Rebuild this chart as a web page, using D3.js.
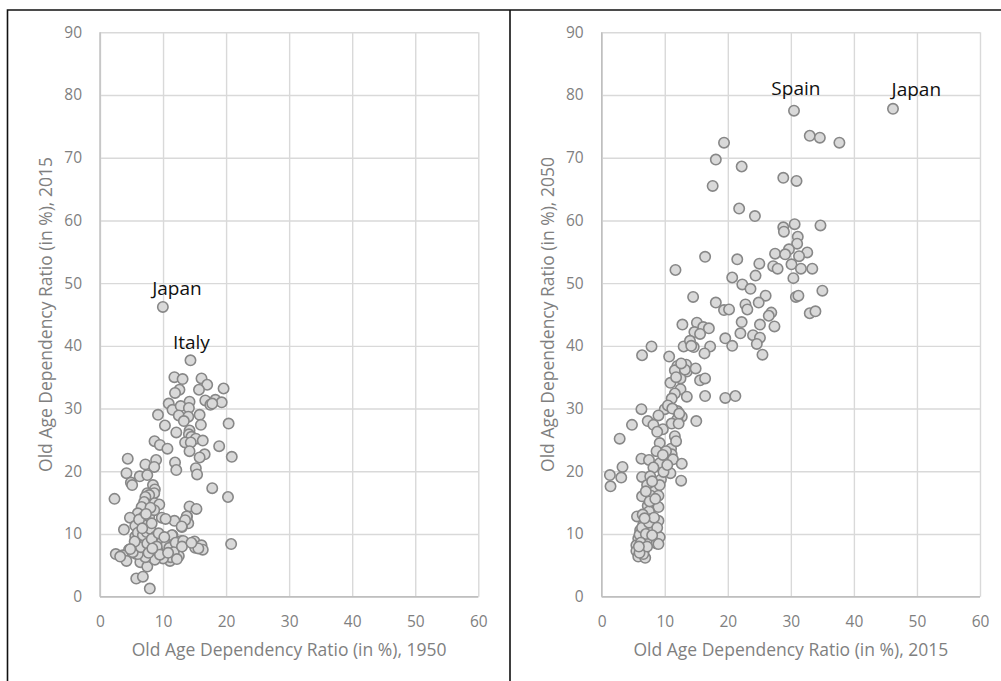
<!DOCTYPE html>
<html>
<head>
<meta charset="utf-8">
<script src="https://cdn.jsdelivr.net/npm/d3@7"></script>
<style>
  body { margin: 0; background: #fff; }
  svg { display: block; }
  .tick text { fill: #7f7f7f; font-family: "Open Sans", sans-serif; font-size: 15.5px; }
  .title { fill: #7f7f7f; font-family: "Open Sans", sans-serif; font-size: 17.5px; }
  .country { fill: #111; font-family: "Open Sans", sans-serif; font-size: 19px; }
</style>
</head>
<body>
<svg width="1001" height="681"></svg>
<script>
// ticks
const xTicks = [0, 10, 20, 30, 40, 50, 60];
const yTicks = [0, 10, 20, 30, 40, 50, 60, 70, 80, 90];

// left chart: 1950 vs 2015
const oadr1950 = [9.97,14.35,11.8,13.1,16.1,17.0,19.6,15.7,12.6,11.9,14.2,16.7,18.3,19.3,17.5,17.8,10.9,11.5,12.8,14.1,
  15.8,12.5,14.0,9.2,13.3,16.0,20.4,10.3,12.1,14.2,14.1,14.5,15.2,16.3,13.5,14.4,8.65,9.5,10.7,18.9,
  14.2,16.6,15.8,20.9,4.4,8.9,11.9,7.2,8.6,12.1,15.2,15.4,4.2,6.3,7.5,4.9,5.1,8.4,17.8,8.7,
  7.5,8.6,7.8,7.2,2.3,20.3,7.0,8.65,9.4,14.2,15.3,6.6,6.0,8.1,6.9,13.8,4.75,9.8,11.8,10.4,
  14.0,13.0,6.6,5.6,6.9,3.8,11.5,5.6,6.4,7.8,9.5,10.4,12.9,15.0,16.1,20.8,7.1,8.5,11.5,4.6,
  5.4,15.1,16.3,2.5,3.6,5.75,7.8,9.1,10.9,12.2,4.2,6.4,9.0,11.1,7.5,5.75,6.8,7.9,
  13.75,13.5,12.95,11.4,15.6,3.2,
  6.0,6.8,7.4,8.0,8.8,9.8,10.5,11.0,12.0,13.2,12.5,11.2,10.0,8.7,7.2,6.0,5.2,6.5,7.5,8.2,
  9.3,5.5,4.8,7.0,7.8,8.6,6.2,8.2,9.0,10.2,11.7,12.2,13.0,14.5,8.0,7.3,6.7,9.5,10.8,7.7,8.3];
const oadr2015a = [46.2,37.7,35.0,34.7,34.8,33.8,33.2,33.0,33.0,32.5,31.1,31.3,31.4,31.0,30.6,30.8,30.8,29.8,30.4,30.1,
  29.0,28.9,28.7,29.0,28.0,27.4,27.6,27.3,26.2,26.5,25.9,25.5,25.2,24.9,24.6,24.6,24.8,24.2,23.6,24.0,
  23.2,22.7,22.2,22.3,22.0,21.8,21.4,21.1,20.7,20.2,20.5,19.5,19.7,19.2,19.4,18.2,17.8,17.8,17.3,17.1,
  16.5,16.5,16.2,15.9,15.6,15.9,15.1,14.9,14.7,14.4,14.0,14.3,13.3,13.6,12.7,12.8,12.6,12.6,12.1,12.4,
  11.7,11.1,11.5,11.3,11.0,10.7,9.8,9.6,9.3,9.2,9.1,9.0,8.9,8.8,8.2,8.4,8.5,8.3,8.1,7.5,
  7.4,7.8,7.5,6.8,6.6,6.8,7.5,7.3,7.3,7.4,5.7,5.5,6.4,5.7,4.8,2.9,3.2,1.3,
  12.8,12.2,11.2,9.8,7.7,6.4,
  10.2,9.8,10.3,10.8,9.6,8.7,8.2,7.8,8.6,8.9,6.5,6.3,6.1,5.9,6.3,6.8,7.1,7.9,8.5,9.2,
  10.1,8.8,7.6,12.0,12.8,13.8,12.3,11.7,8.0,9.5,7.1,6.0,8.0,8.6,14.2,13.2,10.9,6.7,7.0,7.0,7.7];

// right chart: 2015 vs 2050
const oadr2015b = [46.2,30.5,33.0,34.6,37.7,19.4,18.1,22.2,28.8,30.9,17.6,21.8,24.3,30.6,34.7,28.8,28.9,31.1,31.0,29.7,
  32.6,27.5,29.1,31.3,16.4,21.5,25.0,27.2,27.9,30.1,31.6,33.4,11.7,24.4,30.4,20.7,22.3,23.6,35.0,14.5,
  26.0,30.8,31.2,18.1,24.9,22.8,19.4,20.2,23.1,33.0,33.9,26.9,26.5,12.8,15.1,16.1,17.0,22.2,25.1,27.4,
  14.7,15.6,22.0,19.6,24.0,25.1,24.6,7.9,13.0,14.6,17.2,20.7,14.0,16.3,25.5,6.4,10.7,12.0,13.4,11.6,
  13.5,14.9,12.5,15.6,16.4,10.9,12.5,11.6,11.1,13.5,16.4,19.6,21.2,6.3,10.0,12.0,9.0,12.7,12.0,15.0,
  7.3,8.2,11.1,4.8,9.7,8.8,11.6,2.85,9.2,11.0,8.7,11.1,6.3,10.0,7.5,11.3,9.2,12.7,3.3,8.2,
  10.9,1.3,3.1,6.4,7.7,9.4,12.6,1.4,7.2,8.7,8.4,6.4,7.8,9.0,8.2,9.0,7.3,7.5,5.6,6.5,
  7.8,9.0,6.6,7.1,6.1,8.1,6.7,5.8,7.7,9.2,7.4,8.7,9.0,5.5,6.6,5.5,6.7,5.8,6.9,6.6,
  6.0,6.4,7.0,7.5,8.3,8.8,6.2,7.2,8.0,6.8,7.6,8.5,9.2,9.8,8.0,7.0,10.4,10.2,9.7,11.8,
  12.2,10.5,11.2,12.3,13.2,14.2,11.8,12.6,6.0,5.9];
const oadr2050 = [77.8,77.5,73.5,73.2,72.4,72.4,69.7,68.6,66.8,66.3,65.5,61.9,60.7,59.4,59.2,58.9,58.2,57.4,56.3,55.4,
  54.9,54.7,54.6,54.3,54.2,53.8,53.1,52.7,52.3,53.0,52.3,52.3,52.1,51.2,50.8,50.9,49.8,49.1,48.8,47.8,
  48.0,47.8,48.0,46.9,46.9,46.6,45.7,45.8,45.8,45.2,45.5,45.3,44.8,43.4,43.7,43.0,42.8,43.8,43.4,43.1,
  42.2,41.9,42.0,41.2,41.7,41.3,40.3,39.9,39.9,39.8,39.9,40.0,40.8,38.8,38.6,38.5,38.3,36.8,37.0,36.1,
  35.9,36.4,34.8,34.5,34.8,34.1,33.1,32.4,31.6,31.9,32.0,31.7,32.0,29.9,29.9,29.6,28.9,28.7,28.3,28.0,
  28.0,27.4,27.6,27.4,26.7,26.3,25.6,25.2,24.5,23.6,23.2,22.7,22.0,22.1,21.8,21.9,21.3,21.2,20.7,20.6,
  19.7,19.4,19.0,19.1,19.2,18.7,18.5,17.6,17.8,17.3,16.8,16.0,16.1,16.1,14.7,14.3,14.5,13.6,12.8,13.1,
  12.4,12.1,11.5,11.3,10.6,10.6,10.0,9.3,9.2,9.5,8.8,8.5,8.4,8.2,7.8,7.3,7.4,6.4,6.2,6.8,
  9.9,11.0,10.0,11.8,12.6,11.0,8.6,8.0,9.8,12.5,15.2,15.6,17.8,19.9,18.4,16.8,21.0,23.2,22.6,24.8,
  27.6,30.5,30.0,29.2,36.2,40.0,35.0,37.2,7.0,8.0];

// labelled countries: [x, y] of the label centre
const leftLabels = [["Japan", 12.2, 49.1], ["Italy", 14.5, 40.6]];
const rightLabels = [["Spain", 30.8, 81.0], ["Japan", 49.9, 80.9]];

const svg = d3.select("svg");

// outer frame
svg.append("path")
  .attr("d", "M7.5,681V10H1001M510,10V681")
  .attr("fill", "none").attr("stroke", "#111").attr("stroke-width", 1.6);

function drawPanel(left, xs, ys, labels, xTitle, yTitle) {
  const x = d3.scaleLinear().domain([0, 60]).range([left, left + 378.3]);
  const y = d3.scaleLinear().domain([0, 90]).range([596.7, 32.3]);
  const g = svg.append("g");

  // grid
  g.append("g").attr("transform", `translate(0,596.7)`)
    .call(d3.axisBottom(x).tickValues(xTicks).tickSize(-564.4).tickFormat(""))
    .call(a => a.select(".domain").remove())
    .call(a => a.selectAll("line").attr("stroke", "#d9d9d9").attr("stroke-width", 1.4));
  g.append("g").attr("transform", `translate(${left},0)`)
    .call(d3.axisLeft(y).tickValues(yTicks).tickSize(-378.3).tickFormat(""))
    .call(a => a.select(".domain").remove())
    .call(a => a.selectAll("line").attr("stroke", "#d9d9d9").attr("stroke-width", 1.4));
  // axis lines
  g.append("line").attr("x1", x(0)).attr("x2", x(60)).attr("y1", y(0)).attr("y2", y(0))
    .attr("stroke", "#bfbfbf").attr("stroke-width", 1.4);
  g.append("line").attr("x1", x(0)).attr("x2", x(0)).attr("y1", y(0)).attr("y2", y(90))
    .attr("stroke", "#bfbfbf").attr("stroke-width", 1.4);

  // tick labels
  g.append("g").attr("transform", `translate(0,${y(0) + 16})`)
    .call(d3.axisBottom(x).tickValues(xTicks).tickSize(0))
    .call(a => a.select(".domain").remove());
  g.append("g").attr("transform", `translate(${x(0) - 15},0)`)
    .call(d3.axisLeft(y).tickValues(yTicks).tickSize(0))
    .call(a => a.select(".domain").remove());

  // titles
  g.append("text").attr("class", "title")
    .attr("x", (x(0) + x(60)) / 2).attr("y", 656)
    .attr("text-anchor", "middle").text(xTitle);
  g.append("text").attr("class", "title")
    .attr("transform", `translate(${left - 48},${(y(0) + y(90)) / 2}) rotate(-90)`)
    .attr("text-anchor", "middle").text(yTitle);

  // points
  g.append("g").selectAll("circle")
    .data(xs.map((v, i) => [v, ys[i]]))
    .join("circle")
      .attr("cx", d => x(d[0]))
      .attr("cy", d => y(d[1]))
      .attr("r", 5.2)
      .attr("fill", "#d9d9d9")
      .attr("stroke", "#878787")
      .attr("stroke-width", 1.6);

  // country labels
  g.append("g").selectAll("text")
    .data(labels)
    .join("text")
      .attr("class", "country")
      .attr("x", d => x(d[1]))
      .attr("y", d => y(d[2]))
      .attr("dy", "0.35em")
      .attr("text-anchor", "middle")
      .text(d => d[0]);
}

drawPanel(100, oadr1950, oadr2015a, leftLabels,
  "Old Age Dependency Ratio (in %), 1950", "Old Age Dependency Ratio (in %), 2015");
drawPanel(601.7, oadr2015b, oadr2050, rightLabels,
  "Old Age Dependency Ratio (in %), 2015", "Old Age Dependency Ratio (in %), 2050");
</script>
</body>
</html>
